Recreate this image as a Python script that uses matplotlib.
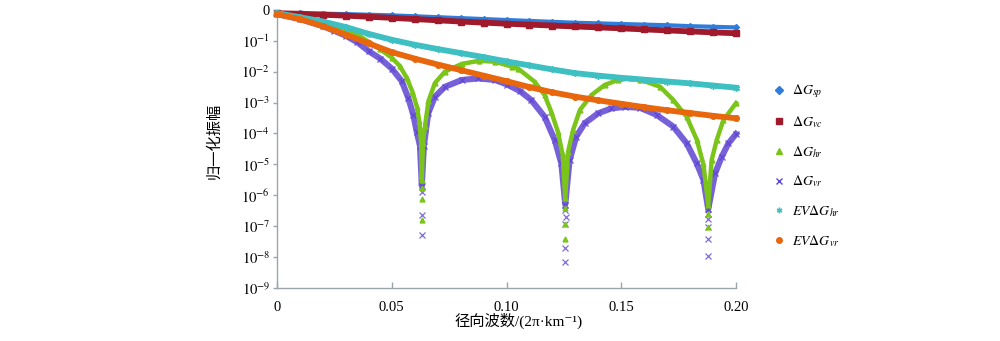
import matplotlib.pyplot as plt
import numpy as np
from matplotlib.lines import Line2D

plt.rcParams['font.family'] = ['Liberation Serif', 'Noto Sans CJK SC', 'DejaVu Serif']
plt.rcParams['mathtext.fontset'] = 'stix'

# radial wavenumber (2*pi/km), amplitudes given as log10 of the normalised value
k_smooth = [0.00, 0.01, 0.02, 0.03, 0.04, 0.05, 0.06, 0.07, 0.08, 0.09, 0.10,
            0.11, 0.12, 0.13, 0.14, 0.15, 0.16, 0.17, 0.18, 0.19, 0.20]
sp_log = [-0.11, -0.115, -0.125, -0.14, -0.16, -0.18, -0.21, -0.24, -0.27, -0.30, -0.33,
          -0.36, -0.39, -0.42, -0.44, -0.46, -0.48, -0.50, -0.53, -0.55, -0.57]
vc_log = [-0.11, -0.13, -0.16, -0.19, -0.225, -0.26, -0.30, -0.34, -0.38, -0.415, -0.45,
          -0.48, -0.51, -0.54, -0.57, -0.60, -0.635, -0.665, -0.70, -0.73, -0.76]
ev_hr_log = [-0.11, -0.24, -0.38, -0.56, -0.78, -0.97, -1.13, -1.27, -1.40, -1.53, -1.67,
             -1.80, -1.93, -2.05, -2.13, -2.20, -2.26, -2.32, -2.38, -2.45, -2.52]
ev_vr_log = [-0.14, -0.30, -0.53, -0.80, -1.09, -1.37, -1.58, -1.77, -1.95, -2.13, -2.31,
             -2.50, -2.67, -2.81, -2.93, -3.04, -3.15, -3.25, -3.34, -3.43, -3.51]

k_hr = [0.0, 0.01, 0.02, 0.025, 0.03, 0.035, 0.04, 0.045, 0.05, 0.0535, 0.0565,
        0.059, 0.061, 0.062, 0.0628, 0.0631, 0.0636, 0.0645, 0.066, 0.0688, 0.0732,
        0.0805, 0.088, 0.095, 0.1023, 0.105, 0.1123, 0.1166, 0.1195, 0.1224, 0.1245,
        0.1256, 0.1268, 0.129, 0.132, 0.137, 0.1428, 0.1486, 0.1544, 0.1582, 0.1669,
        0.1727, 0.1785, 0.1829, 0.1858, 0.1879, 0.1894, 0.1916, 0.1945, 0.20]
hr_log = [-0.11, -0.24, -0.40, -0.50, -0.63, -0.80, -1.04, -1.28, -1.55, -1.82, -2.20,
          -2.65, -3.15, -3.6, -4.3, -5.5, -4.3, -3.75, -2.95, -2.37, -2.00,
          -1.75, -1.65, -1.68, -1.84, -1.90, -2.33, -2.76, -3.30, -3.95, -4.7,
          -6.1, -4.6, -3.89, -3.24, -2.76, -2.43, -2.27, -2.22, -2.26, -2.49,
          -2.92, -3.46, -4.2, -5.0, -6.3, -4.86, -4.21, -3.57, -3.02]

k_vr = [0.0, 0.01, 0.02, 0.025, 0.03, 0.035, 0.04, 0.045, 0.05, 0.0543, 0.0572,
        0.0594, 0.0609, 0.0623, 0.0631, 0.0640, 0.0659, 0.0688, 0.0732, 0.0805, 0.0877,
        0.095, 0.1003, 0.1059, 0.1108, 0.1166, 0.121, 0.1239, 0.1256, 0.1275, 0.1304,
        0.1341, 0.1399, 0.1457, 0.1515, 0.1582, 0.1654, 0.1727, 0.1785, 0.1829, 0.1858,
        0.1879, 0.1909, 0.1938, 0.1967, 0.20]
vr_log = [-0.14, -0.30, -0.53, -0.68, -0.84, -1.05, -1.34, -1.58, -1.90, -2.30, -2.85,
          -3.40, -3.95, -4.40, -5.7, -4.4, -3.35, -2.81, -2.49, -2.27, -2.22,
          -2.27, -2.42, -2.63, -2.92, -3.46, -4.21, -4.97, -6.3, -4.86, -4.10,
          -3.67, -3.35, -3.19, -3.14, -3.17, -3.40, -3.78, -4.32, -4.97, -5.5,
          -6.45, -5.29, -4.75, -4.32, -4.02]

# isolated points below the notches
k_hr_deep = [0.0631, 0.0631, 0.0631, 0.1256, 0.1256, 0.1256, 0.1879, 0.1879]
hr_deep_log = [-5.75, -6.13, -6.80, -6.4, -6.93, -7.43, -6.6, -7.04]
k_vr_deep = [0.0631, 0.0631, 0.0631, 0.1254, 0.1258, 0.1256, 0.1256, 0.1256,
             0.1879, 0.1879, 0.1879, 0.1879, 0.1879]
vr_deep_log = [-5.89, -6.64, -7.30, -6.48, -6.70, -6.93, -7.69, -8.17,
               -6.61, -6.78, -7.04, -7.40, -7.97]

xticks = [0, 0.05, 0.10, 0.15, 0.20]
xtick_labels = ['0', '0.05', '0.10', '0.15', '0.20']
yticks = [1, 1e-1, 1e-2, 1e-3, 1e-4, 1e-5, 1e-6, 1e-7, 1e-8, 1e-9]
ytick_labels = ['0', '$10^{-1}$', '$10^{-2}$', '$10^{-3}$', '$10^{-4}$', '$10^{-5}$',
                '$10^{-6}$', '$10^{-7}$', '$10^{-8}$', '$10^{-9}$']

names = [r'$\Delta G_{sp}$', r'$\Delta G_{vc}$', r'$\Delta G_{hr}$', r'$\Delta G_{vr}$',
         r'$EV\Delta G_{hr}$', r'$EV\Delta G_{vr}$']
colors = ['#2f7cdb', '#a11a2b', '#7bc41a', '#5f45d3', '#3ebfc2', '#e8670d']
markers = ['D', 's', '^', 'x', (6, 2, 0), 'o']

fig = plt.figure(figsize=(10, 3.41), dpi=100)
ax = fig.add_axes([0.277, 0.1554, 0.459, 0.8159])

def amp(v):
    return 10 ** np.array(v)

ax.plot(k_smooth, amp(sp_log), color=colors[0], lw=3.0, marker=markers[0], ms=3, clip_on=False, zorder=3)
ax.plot(k_smooth, amp(vc_log), color=colors[1], lw=4.2, marker=markers[1], ms=4, clip_on=False, zorder=4)
ax.plot(k_vr, amp(vr_log), color=colors[3], lw=4.4, alpha=0.85, marker=markers[3], ms=5, mew=1, clip_on=False, zorder=5)
ax.plot(k_hr, amp(hr_log), color=colors[2], lw=3.2, marker=markers[2], ms=3.5, clip_on=False, zorder=6)
ax.plot(k_smooth, amp(ev_hr_log), color=colors[4], lw=4.2, marker=markers[4], ms=5, mew=1, clip_on=False, zorder=7)
ax.plot(k_smooth, amp(ev_vr_log), color=colors[5], lw=4.2, marker=markers[5], ms=4, clip_on=False, zorder=8)

ax.plot(k_vr_deep, amp(vr_deep_log), ls='none', color=colors[3], marker='x', ms=4, mew=0.9, alpha=0.8, zorder=5)
ax.plot(k_hr_deep, amp(hr_deep_log), ls='none', color=colors[2], marker='^', ms=3.5, zorder=6)

ax.set_yscale('log')
ax.set_xlim(0, 0.2)
ax.set_ylim(1e-9, 1)
ax.set_xticks(xticks)
ax.set_xticklabels(xtick_labels)
ax.set_yticks(yticks)
ax.set_yticklabels(ytick_labels)
ax.minorticks_off()
ax.tick_params(axis='x', direction='in', length=4, width=1, color='#9aa5ab', labelsize=10.5, pad=9)
ax.tick_params(axis='y', direction='out', length=3, width=1, color='#9aa5ab', labelsize=10.5, pad=2)

for side in ['top', 'right']:
    ax.spines[side].set_visible(False)
for side in ['left', 'bottom']:
    ax.spines[side].set_color('#9aa5ab')
    ax.spines[side].set_linewidth(1.0)

ax.set_xlabel('径向波数/(2π·km⁻¹)', fontsize=11)
ax.xaxis.set_label_coords(0.527, -0.09)
ax.set_ylabel('归一化振幅', fontsize=11, family=['Noto Sans CJK SC'])
ax.yaxis.set_label_coords(-0.12, 0.53)

handles = [Line2D([], [], ls='none', marker=m, color=c, ms=4) for m, c in zip(markers, colors)]
fig.legend(handles, names, loc='upper left', bbox_to_anchor=(0.766, 0.778), frameon=False,
           fontsize=10, labelspacing=1.0, handlelength=0.8, handletextpad=0.6, borderpad=0)

plt.savefig('out.png')
